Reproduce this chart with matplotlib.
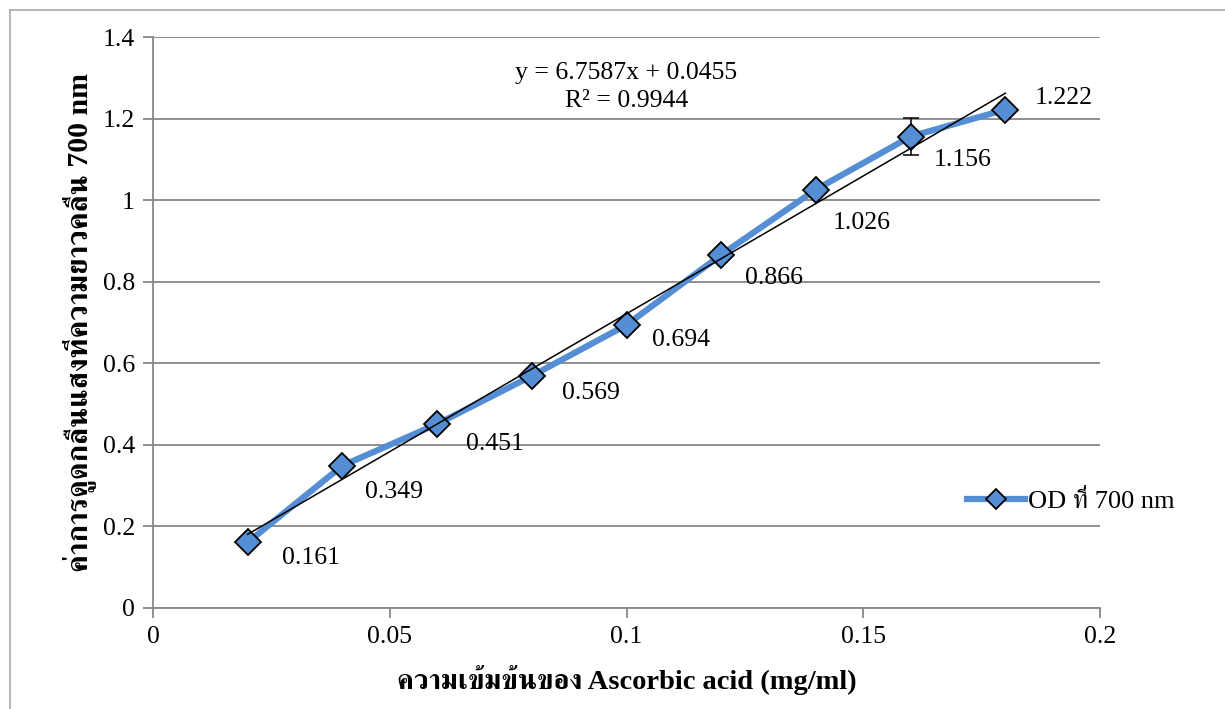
import matplotlib
matplotlib.use("Agg")
import matplotlib.pyplot as plt
from matplotlib import font_manager
from matplotlib.ft2font import FT2Font
from matplotlib.lines import Line2D

# data
conc = [0.02, 0.04, 0.06, 0.08, 0.10, 0.12, 0.14, 0.16, 0.18]
od = [0.161, 0.349, 0.451, 0.569, 0.694, 0.866, 1.026, 1.156, 1.222]
od_err = [0, 0, 0, 0, 0, 0, 0, 0.046, 0]
slope = 6.7587
intercept = 0.0455
r2 = 0.9944
x_ticks = [0, 0.05, 0.1, 0.15, 0.2]
x_tick_labels = ["0", "0.05", "0.1", "0.15", "0.2"]
y_ticks = [0, 0.2, 0.4, 0.6, 0.8, 1.0, 1.2, 1.4]
y_tick_labels = ["0", "0.2", "0.4", "0.6", "0.8", "1", "1.2", "1.4"]
x_label = "ความเข้มข้นของ Ascorbic acid (mg/ml)"
y_label = "ค่าการดูดกลืนแสงที่ความยาวคลื่น 700 nm"
series_name = "OD ที่ 700 nm"

# label offsets (points) for the data labels, as placed in the original
label_offsets = [(24.5, -11), (16, -19), (21, -14.5), (22, -12), (18, -11),
                 (17, -16.5), (12, -24), (16.5, -17), (21, 8)]

# find a font that has Thai glyphs
thai_font = None
for f in font_manager.fontManager.ttflist:
    try:
        if ord("ก") in FT2Font(f.fname).get_charmap():
            thai_font = f.name
            if "Serif" in f.name or "Sans" in f.name:
                break
    except Exception:
        pass
fams = ["Liberation Serif"] + ([thai_font] if thai_font else []) + ["DejaVu Sans"]
plt.rcParams["font.family"] = fams

blue = "#558ED5"
grid_col = "#878787"

fig = plt.figure(figsize=(12.25, 7.09), dpi=100)
ax = fig.add_axes([153 / 1225, 1 - 608 / 709, 947 / 1225, 571 / 709])

ax.plot(conc, od, color=blue, lw=4.5, zorder=3, solid_capstyle="round")
ex = [c for c, e in zip(conc, od_err) if e > 0]
ey = [o for o, e in zip(od, od_err) if e > 0]
ee = [e for e in od_err if e > 0]
ax.errorbar(ex, ey, yerr=ee, fmt="none", ecolor="black", elinewidth=1.1, capsize=6, capthick=1.1, zorder=4)
ax.plot(conc, od, ls="none", marker="D", ms=13, mfc=blue, mec="black", mew=1.3, zorder=5)

fit_x = [conc[0], conc[-1]]
fit_y = [slope * v + intercept for v in fit_x]
ax.plot(fit_x, fit_y, color="black", lw=1.1, zorder=6)

for xv, yv, off in zip(conc, od, label_offsets):
    ax.annotate(f"{yv:.3f}", (xv, yv), xytext=off, textcoords="offset points",
                fontsize=18.5, va="center", ha="left")

ax.text(0.5, 0.913, f"y = {slope}x + {intercept}\nR² = {r2}", transform=ax.transAxes,
        ha="center", va="center", fontsize=18.5, linespacing=1.35)

ax.set_xlim(0, 0.2)
ax.set_ylim(0, 1.4)
ax.set_xticks(x_ticks)
ax.set_xticklabels(x_tick_labels, fontsize=18.5)
ax.set_yticks(y_ticks)
ax.set_yticklabels(y_tick_labels, fontsize=18.5)
ax.tick_params(axis="both", direction="out", length=7, color=grid_col, width=1.3, pad=6)
ax.yaxis.grid(True, color=grid_col, lw=1.3)
ax.set_axisbelow(True)
for s in ["top", "right"]:
    ax.spines[s].set_visible(False)
for s in ["left", "bottom"]:
    ax.spines[s].set_color(grid_col)
    ax.spines[s].set_linewidth(1.3)

ax.set_xlabel(x_label, fontsize=20.5, fontweight="bold", labelpad=12)
ax.set_ylabel(y_label, fontsize=21.5, fontweight="bold", labelpad=5)

handle = Line2D([], [], color=blue, lw=4.5, marker="D", ms=10, mfc=blue, mec="black", mew=1.3)
fig.legend([handle], [series_name], loc="center left", bbox_to_anchor=(0.77, 0.293),
           frameon=False, fontsize=19, handlelength=2.2, handletextpad=0.1)

# outer chart border
fig.add_artist(Line2D([10 / 1225, 10 / 1225], [0, 1 - 10 / 709], color="#aaaaaa", lw=1.2))
fig.add_artist(Line2D([10 / 1225, 1], [1 - 10 / 709, 1 - 10 / 709], color="#aaaaaa", lw=1.2))

fig.savefig("out.png", dpi=100)
